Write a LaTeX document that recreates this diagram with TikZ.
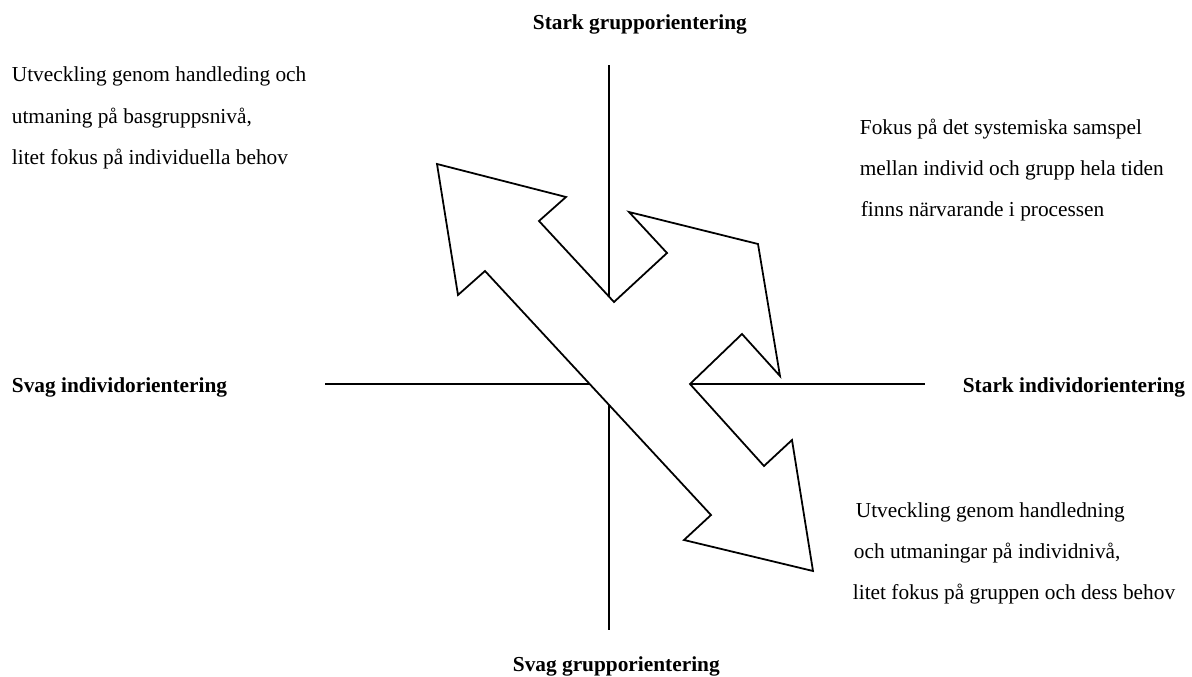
\documentclass[12pt,tikz,border=0pt]{standalone}
\usepackage{fontspec}
\setmainfont{Liberation Serif}
\tikzset{every picture/.style={line width=1pt}}

\begin{document}
\begin{tikzpicture}[x=0.5625pt,y=0.5625pt,yscale=-1,xscale=1]
\useasboundingbox (0,0) rectangle (1192,677);

%Axis end points
\coordinate (axTop) at (609,65);
\coordinate (axBottom) at (609,630);
\coordinate (axLeft) at (325,384);
\coordinate (axRight) at (925,384);

%Straight Lines
\draw (axTop) -- (axBottom);
%Straight Lines
\draw (axLeft) -- (axRight);

%Shape: Polygon (double arrow with branches)
\draw [fill=white] (437,164) -- (566,197) -- (539,221) -- (614,302) -- (667,253) -- (629,212) -- (758,244) -- (780,376) -- (742,334) -- (690,384) -- (764,466) -- (792,440) -- (813,571) -- (684,540) -- (711,515) -- (485,271) -- (458,295) -- cycle;

% Text Node
\node (stGrupp) [anchor=base west, inner sep=0pt, font=\bfseries] at (532,29) {Stark grupporientering};
% Text Node
\node (svGrupp) [anchor=base west, inner sep=0pt, font=\bfseries] at (512,671) {Svag grupporientering};
% Text Node
\node (svIndivid) [anchor=base west, inner sep=0pt, font=\bfseries] at (11,392) {Svag individorientering};
% Text Node
\node (stIndivid) [anchor=base east, inner sep=0pt, font=\bfseries] at (1186,392) {Stark individorientering};

% Text Node
\node (tlA) [anchor=base west, inner sep=0pt] at (11,82) {Utveckling genom handleding och};
% Text Node
\node (tlB) [anchor=base west, inner sep=0pt] at (11,123) {utmaning på basgruppsnivå,};
% Text Node
\node (tlC) [anchor=base west, inner sep=0pt] at (11,164) {litet fokus på individuella behov};

% Text Node
\node (trA) [anchor=base west, inner sep=0pt] at (859,134) {Fokus på det systemiska samspel};
% Text Node
\node (trB) [anchor=base west, inner sep=0pt] at (859,175) {mellan individ och grupp hela tiden};
% Text Node
\node (trC) [anchor=base west, inner sep=0pt] at (860,216) {finns närvarande i processen};

% Text Node
\node (brA) [anchor=base west, inner sep=0pt] at (855,517) {Utveckling genom handledning};
% Text Node
\node (brB) [anchor=base west, inner sep=0pt] at (853,558) {och utmaningar på individnivå,};
% Text Node
\node (brC) [anchor=base west, inner sep=0pt] at (852,599) {litet fokus på gruppen och dess behov};

\end{tikzpicture}
\end{document}
